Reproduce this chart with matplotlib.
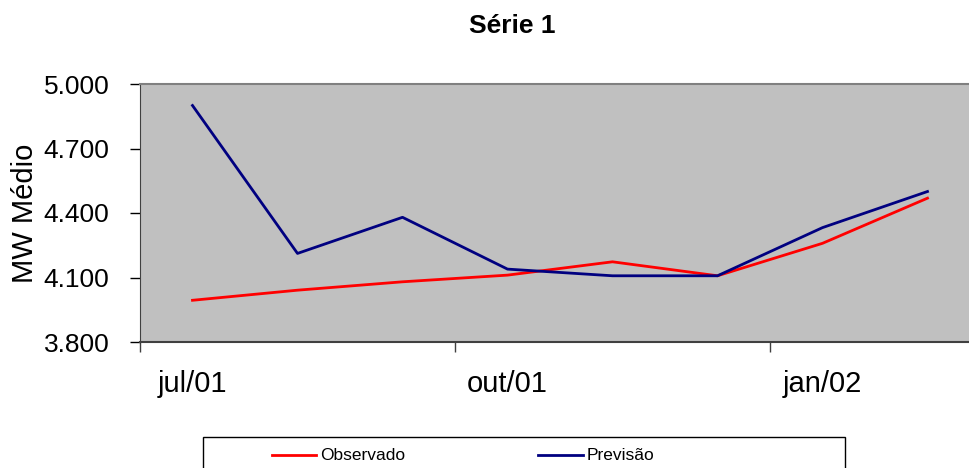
import matplotlib
matplotlib.use('Agg')
import matplotlib.pyplot as plt
from matplotlib.ticker import FuncFormatter
from matplotlib.lines import Line2D
from matplotlib.patches import Rectangle

plt.rcParams['font.family'] = ['Liberation Sans', 'DejaVu Sans']

meses = ['jul/01', 'ago/01', 'set/01', 'out/01', 'nov/01', 'dez/01', 'jan/02', 'fev/02']
observado = [3994, 4041, 4080, 4111, 4173, 4108, 4259, 4469]
previsao = [4900, 4212, 4380, 4139, 4108, 4108, 4332, 4500]
yticks = [3800, 4100, 4400, 4700, 5000]
series = ['Observado', 'Previsão']
cores = ['#FF0000', '#000080']

W, H = 970, 468
fig = plt.figure(figsize=(W / 100, H / 100), dpi=100)
ax = fig.add_axes([140 / W, 1 - 342 / H, 840 / W, 258 / H])
ax.set_facecolor('#C0C0C0')

x = list(range(len(meses)))
ax.plot(x, observado, color=cores[0], lw=2)
ax.plot(x, previsao, color=cores[1], lw=2)

ax.set_xlim(-0.5, len(meses) - 0.5)
ax.set_ylim(3800, 5000)
ax.set_yticks(yticks)
ax.yaxis.set_major_formatter(FuncFormatter(lambda v, p: f'{v:,.0f}'.replace(',', '.')))
ax.tick_params(axis='y', labelsize=19, length=7, width=1, pad=15, direction='out')

# marcas entre categorias, rótulos no centro
ax.set_xticks([-0.5, 2.5, 5.5])
ax.set_xticklabels([])
ax.set_xticks([0, 3, 6], minor=True)
ax.set_xticklabels([meses[0], meses[3], meses[6]], minor=True)
ax.tick_params(axis='x', which='major', length=7, width=1, color='#404040')
ax.tick_params(axis='x', which='minor', length=0, labelsize=21, pad=20)

ax.spines['top'].set_color('#808080')
ax.spines['top'].set_linewidth(1.5)
ax.spines['right'].set_visible(False)
ax.spines['left'].set_color('#404040')
ax.spines['bottom'].set_color('#404040')
ax.spines['bottom'].set_linewidth(1.5)

ax.set_ylabel('MW Médio', fontsize=21, labelpad=3)
fig.text(512 / W, 1 - 26 / H, 'Série 1', fontsize=19, fontweight='bold', ha='center', va='center')

# legenda no estilo do Excel, cortada na borda inferior
fig.patches.append(Rectangle((203 / W, -0.02), 642 / W, 0.02 + 31 / H, transform=fig.transFigure,
                             facecolor='white', edgecolor='black', lw=1))
yl = 1 - 455 / H
for (x0, x1), nome, cor in zip([(272, 316), (538, 583)], series, cores):
    fig.lines.append(Line2D([x0 / W, x1 / W], [yl, yl], transform=fig.transFigure, color=cor, lw=2))
    fig.text((x1 + 4) / W, yl, nome, fontsize=12.5, ha='left', va='center')

fig.savefig('out.png', dpi=100)
